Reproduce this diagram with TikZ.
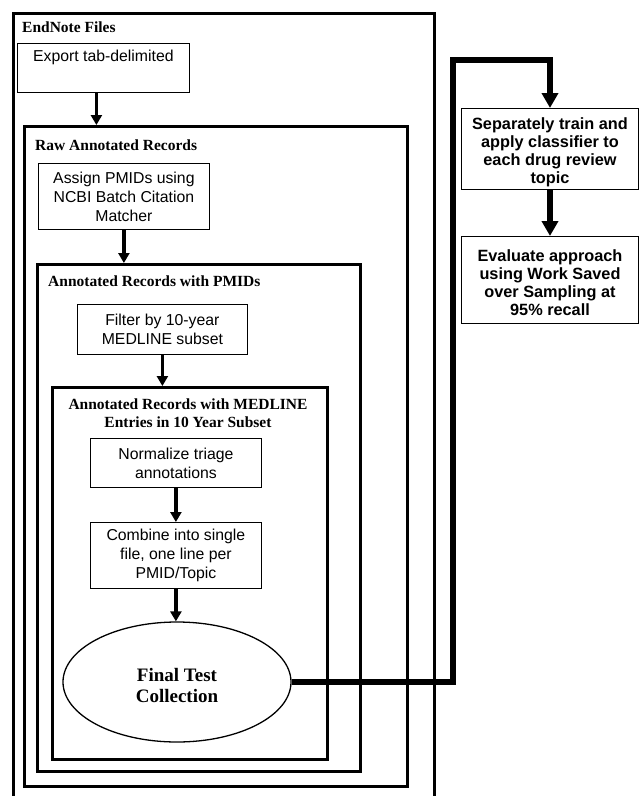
\documentclass[tikz,border=0pt]{standalone}
\usepackage{fontspec}
\setmainfont{Liberation Serif}
\setsansfont{Liberation Sans}
\usetikzlibrary{arrows.meta,shapes.geometric}
\begin{document}
\begin{tikzpicture}[x=1pt,y=-1pt,
 frame/.style={draw,line width=2.8pt,rectangle,inner sep=0pt,anchor=north west},
 stepbox/.style={draw,line width=0.8pt,rectangle,align=center,anchor=north west,
   font=\sffamily\fontsize{15.8}{19}\selectfont,inner sep=0pt},
 rbox/.style={draw,line width=1pt,rectangle,align=center,anchor=north west,
   font=\sffamily\bfseries\fontsize{16.3}{18}\selectfont,inner sep=0pt},
 title/.style={font=\rmfamily\bfseries\fontsize{15.5}{18}\selectfont,inner sep=0pt},
 arr/.style={line width=3.2pt,-{Triangle[width=11pt,length=10pt]}},
 bigarr/.style={line width=6pt,-{Triangle[width=16pt,length=15pt]}},
]
\useasboundingbox (0,0) rectangle (639,796);
\fill[white] (0,0) rectangle (639,796);

% containers
\node[frame,minimum width=421,minimum height=830] (endnote) at (12,12) {};
\node[frame,minimum width=383,minimum height=660] (raw) at (23,125) {};
\node[frame,minimum width=323,minimum height=507] (pmids) at (36,263) {};
\node[frame,minimum width=275,minimum height=372] (medline) at (51,386) {};

% titles
\node[title,anchor=west] (tEnd) at (22,27) {EndNote Files};
\node[title,anchor=west] (tRaw) at (35,145) {Raw Annotated Records};
\node[title,anchor=west] (tPm) at (48,281) {Annotated Records with PMIDs};
\node[title,align=center] (tMed) at (188,413) {Annotated Records with MEDLINE\\Entries in 10 Year Subset};

% steps
\node[stepbox,minimum width=172,minimum height=49] (export) at (17,43) {Export tab-delimited\\[-1pt]\strut};
\node[stepbox,minimum width=171,minimum height=66] (assign) at (38,163) {Assign PMIDs using\\NCBI Batch Citation\\Matcher};
\node[stepbox,minimum width=170,minimum height=50] (filter) at (77,304) {Filter by 10-year\\MEDLINE subset};
\node[stepbox,minimum width=171,minimum height=49] (normalize) at (90,438) {Normalize triage\\annotations};
\node[stepbox,minimum width=171,minimum height=66] (combine) at (90,522) {Combine into single\\file, one line per\\PMID/Topic};
\node[draw,ellipse,line width=1.3pt,minimum width=228,minimum height=120,inner sep=0pt,align=center,
  font=\rmfamily\bfseries\fontsize{19}{21}\selectfont] (final) at (177,682)
  {\raisebox{-3pt}[\height][\depth]{\parbox{120pt}{\centering Final Test\\Collection}}};

% right side
\node[rbox,minimum width=177,minimum height=81] (sep) at (461,108)
  {\raisebox{-3pt}[\height][\depth]{\parbox{170pt}{\centering Separately train and\\apply classifier to\\each drug review\\topic}}};
\node[rbox,minimum width=177,minimum height=87] (eval) at (461,236)
  {\raisebox{-3pt}[\height][\depth]{\parbox{170pt}{\centering Evaluate approach\\using Work Saved\\over Sampling at\\95\% recall}}};

% arrows
\draw[arr] ([xshift=-7pt]export.south) -- ([xshift=-7pt]export.south |- raw.north);
\draw[arr] (assign.south) -- (assign.south |- pmids.north);
\draw[arr] (filter.south) -- (filter.south |- medline.north);
\draw[arr] (normalize.south) -- (normalize.south |- combine.north);
\draw[arr] (combine.south) -- (combine.south |- final.north);

\coordinate (bend) at (453,60);
\draw[bigarr,line join=miter] (final.east) -- (final.east -| bend) -- (bend) -- (bend -| sep.north) -- (sep.north);
\draw[bigarr] (sep.south) -- (eval.north);
\end{tikzpicture}
\end{document}
